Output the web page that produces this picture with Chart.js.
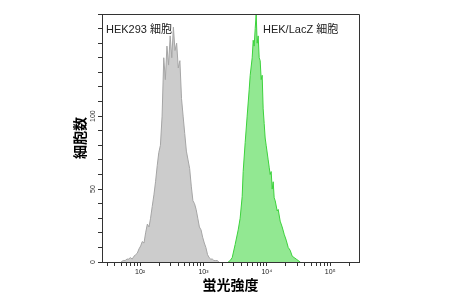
<!DOCTYPE html>
<html>
<head>
<meta charset="utf-8">
<script src="https://cdn.jsdelivr.net/npm/chart.js@4"></script>
<style>
  html, body { margin: 0; padding: 0; background: #fff; }
  #wrap { width: 450px; height: 297px; }
</style>
</head>
<body>
<div id="wrap"><canvas id="histogram" width="450" height="297"></canvas></div>
<script>
"use strict"

// HEK293 細胞 (灰色)
const gray_intensity = [50, 54, 58, 62, 66, 70, 75, 80, 85, 90, 96, 102, 108, 115, 122, 130, 138, 146, 155, 165,
    175, 186, 197, 209, 222, 236, 250, 265, 281, 298, 316, 335, 355, 377, 400, 424, 450, 477, 506, 537,
    570, 605, 642, 681, 722, 766, 813, 862, 915, 970, 1030, 1090, 1160, 1230, 1300, 1380, 1460, 1550, 1650, 1750]
const gray_count = [0, 1, 1, 2, 2, 3, 2, 4, 5, 6, 9, 11, 14, 13, 20, 26, 24, 30, 38, 46,
    55, 66, 75, 80, 100, 140, 125, 148, 135, 155, 140, 161, 145, 150, 133, 138, 112, 100, 88, 76,
    70, 64, 52, 42, 40, 36, 30, 24, 22, 17, 13, 10, 5, 3, 2, 2, 1, 1, 1, 0]

// HEK/LacZ 細胞 (緑)
const green_intensity = [2450, 2640, 2840, 3160, 3530, 3790, 4080, 4230, 4550, 4890, 5260, 5460, 5870, 6090, 6310, 6550,
    6790, 7040, 7300, 7570, 7850, 8140, 8440, 8750, 9080, 9410, 9760, 10500, 10890, 11290, 11710, 12140,
    12590, 13060, 13550, 14570, 15110, 16240, 17470, 18790, 20210, 21730, 23370, 25140, 27030, 29080, 31270, 33630]
const green_count = [0, 1, 3, 12, 22, 30, 45, 62, 82, 100, 118, 128, 140, 152, 148, 160,
    170, 150, 155, 140, 138, 125, 128, 105, 95, 85, 80, 70, 65, 60, 62, 50,
    55, 44, 42, 35, 36, 28, 24, 19, 15, 10, 8, 4, 3, 2, 1, 0]

const series_labels = ['HEK293 細胞', 'HEK/LacZ 細胞']
const x_title = '蛍光強度'
const y_title = '細胞数'
const y_labeled_ticks = [0, 50, 100]
const x_decades = [10, 100, 1000, 10000, 100000]
const x_multipliers = [1, 2, 3, 4, 5, 6, 7, 8, 9]
const superscripts = { 1: '¹', 2: '²', 3: '³', 4: '⁴', 5: '⁵' }

const font_family = '"Liberation Sans", Arial, "Noto Sans CJK JP", sans-serif'

const to_points = (xs, ys) => xs.map((x, i) => ({ x: x, y: ys[i] }))

// 枠線 (上と右) とラベル
const frame_plugin = {
    id: 'frame',
    afterDraw: (chart) => {
        const ctx = chart.ctx
        const area = chart.chartArea
        ctx.save()
        ctx.strokeStyle = '#333'
        ctx.lineWidth = 1
        ctx.beginPath()
        ctx.moveTo(area.left, area.top + 0.5)
        ctx.lineTo(area.right + 0.5, area.top + 0.5)
        ctx.lineTo(area.right + 0.5, area.bottom)
        ctx.stroke()

        ctx.fillStyle = '#222'
        ctx.font = `11px ${font_family}`
        ctx.textBaseline = 'middle'
        ctx.textAlign = 'left'
        ctx.fillText(series_labels[0], area.left + 4, area.top + 16)
        ctx.fillText(series_labels[1], area.left + 161, area.top + 16)
        ctx.restore()
    }
}

const ctx = document.getElementById('histogram').getContext('2d')

new Chart(ctx, {
    type: 'line',
    data: {
        datasets: [{
            label: series_labels[0],
            data: to_points(gray_intensity, gray_count),
            fill: 'origin',
            backgroundColor: 'rgb(204, 204, 204)',
            borderColor: 'rgb(165, 165, 165)',
            borderWidth: 1,
            pointRadius: 0,
            tension: 0
        }, {
            label: series_labels[1],
            data: to_points(green_intensity, green_count),
            fill: 'origin',
            backgroundColor: 'rgb(146, 232, 146)',
            borderColor: 'rgb(60, 210, 60)',
            borderWidth: 1,
            pointRadius: 0,
            tension: 0
        }]
    },
    options: {
        responsive: false,
        animation: false,
        devicePixelRatio: 1,
        layout: {
            padding: { left: 73, right: 91, top: 14, bottom: 2 }
        },
        plugins: {
            legend: { display: false },
            tooltip: { enabled: false }
        },
        scales: {
            x: {
                type: 'logarithmic',
                min: 25,
                max: 285000,
                afterBuildTicks: (scale) => {
                    const ticks = []
                    x_decades.forEach(d => {
                        x_multipliers.forEach(m => {
                            const v = d * m
                            if (v >= scale.min && v <= scale.max) ticks.push({ value: v })
                        })
                    })
                    scale.ticks = ticks
                },
                afterFit: (scale) => { scale.height = 33 },
                border: { display: true, color: '#333', width: 1 },
                grid: { drawOnChartArea: false, drawTicks: true, tickLength: 4, color: '#333' },
                ticks: {
                    autoSkip: false,
                    maxRotation: 0,
                    minRotation: 0,
                    padding: 2,
                    color: '#222',
                    font: { family: font_family, size: 7 },
                    callback: (value) => {
                        const e = Math.round(Math.log10(value))
                        if (Math.abs(value - Math.pow(10, e)) < 1e-6) return `10${superscripts[e]}`
                        return ''
                    }
                },
                title: {
                    display: true,
                    text: x_title,
                    color: '#000',
                    padding: 0,
                    font: { family: font_family, size: 14, weight: 'bold' }
                }
            },
            y: {
                type: 'linear',
                min: 0,
                max: 170,
                afterFit: (scale) => { scale.width = 29 },
                border: { display: true, color: '#333', width: 1 },
                grid: { drawOnChartArea: false, drawTicks: true, tickLength: 4, color: '#333' },
                ticks: {
                    stepSize: 10,
                    autoSkip: false,
                    minRotation: 90,
                    maxRotation: 90,
                    crossAlign: 'center',
                    padding: -1,
                    color: '#333',
                    font: { family: font_family, size: 7 },
                    callback: (value) => y_labeled_ticks.includes(value) ? String(value) : ''
                },
                title: {
                    display: true,
                    text: y_title,
                    color: '#000',
                    padding: 0,
                    font: { family: font_family, size: 14, weight: 'bold' }
                }
            }
        }
    },
    plugins: [frame_plugin]
})
</script>
</body>
</html>
